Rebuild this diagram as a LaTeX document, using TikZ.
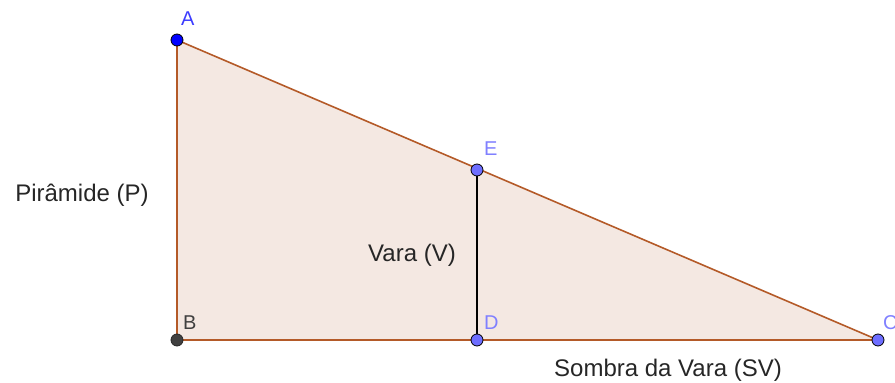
\documentclass[tikz,border=0pt]{standalone}
\usepackage{fontspec}
\setmainfont{Liberation Sans}
\definecolor{edge}{RGB}{180,90,40}
\definecolor{fillc}{RGB}{244,232,226}
\definecolor{ptA}{RGB}{0,0,255}
\definecolor{ptB}{RGB}{64,64,64}
\definecolor{ptL}{RGB}{110,110,255}
\definecolor{lblA}{RGB}{60,60,255}
\definecolor{lblL}{RGB}{128,128,255}
\definecolor{lblB}{RGB}{64,64,64}
\begin{document}
\begin{tikzpicture}[x=1pt,y=-1pt,
  pt/.style={circle,draw=black,line width=0.8pt,inner sep=0pt,minimum size=12pt},
  lbl/.style={font=\fontsize{20}{22}\selectfont,inner sep=0pt,anchor=base west},
  txt/.style={font=\fontsize{24}{26}\selectfont,inner sep=0pt,anchor=base,text=black!85}]
\useasboundingbox (0,0) rectangle (895,383);
\coordinate (A) at (177,40);
\coordinate (B) at (177,340);
\coordinate (C) at (878,340);
\coordinate (D) at (477,340);
\coordinate (E) at (477,170);
\fill[fillc] (A) -- (B) -- (C) -- cycle;
\draw[edge,line width=1.6pt,line join=round] (A) -- (B) -- (C) -- cycle;
\draw[black,line width=1.5pt] (E) -- (D);
\node[pt,fill=ptA] (nA) at (A) {};
\node[pt,fill=ptB,draw=ptB!60!black] (nB) at (B) {};
\node[pt,fill=ptL] (nC) at (C) {};
\node[pt,fill=ptL] (nD) at (D) {};
\node[pt,fill=ptL] (nE) at (E) {};
\node[lbl,text=lblA] (lA) at (181,25) {A};
\node[lbl,text=lblB] (lB) at (183,329) {B};
\node[lbl,text=lblL] (lC) at (883,329) {C};
\node[lbl,text=lblL] (lD) at (484,329) {D};
\node[lbl,text=lblL] (lE) at (484,155) {E};
\node[txt] (P) at (82,201) {Pirâmide (P)};
\node[txt] (V) at (412,261) {Vara (V)};
\node[txt] (SV) at (668,376) {Sombra da Vara (SV)};
\end{tikzpicture}
\end{document}
